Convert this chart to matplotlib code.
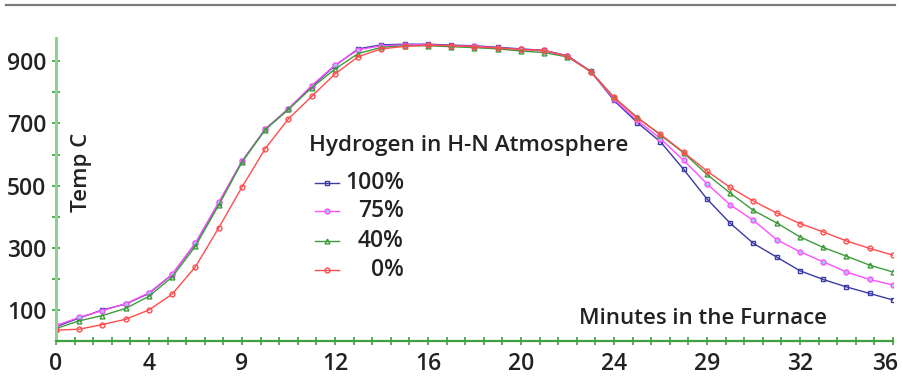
import numpy as np
import matplotlib.pyplot as plt
from matplotlib.lines import Line2D
from matplotlib.transforms import ScaledTranslation

plt.rcParams['font.family'] = ['Open Sans', 'DejaVu Sans']

minutes = np.arange(0, 37)

h100 = [46, 74, 100, 119, 153, 214, 314, 444, 578, 681, 747, 819, 886, 940, 953, 955, 955, 952,
        950, 945, 940, 935, 918, 868, 774, 703, 641, 552, 457, 379, 314, 270, 226, 198, 174, 153, 132]
h75 = [50, 76, 98, 120, 155, 215, 316, 446, 578, 682, 748, 822, 888, 937, 950, 953, 953, 950,
       948, 943, 938, 933, 917, 867, 778, 710, 651, 581, 506, 438, 388, 326, 287, 255, 222, 198, 180]
h40 = [40, 65, 82, 105, 144, 206, 305, 437, 575, 680, 745, 815, 875, 925, 945, 950, 950, 947,
       944, 940, 933, 928, 914, 868, 784, 720, 663, 605, 536, 476, 420, 380, 335, 301, 273, 244, 222]
h0 = [35, 38, 53, 70, 100, 151, 239, 364, 495, 619, 715, 787, 859, 915, 940, 948, 952, 950,
      947, 943, 938, 935, 916, 866, 784, 718, 665, 607, 547, 494, 450, 412, 378, 351, 322, 298, 276]

series = [h100, h75, h40, h0]
labels = ['100%', '75%', '40%', '0%']
colors = ['#3a3aa8', '#ff50ff', '#3c9c3c', '#ff4d4d']
markers = ['s', 'o', '^', 'o']
faces = ['none', '#a0c8ff', 'none', 'none']

xtick_pos = [0, 4, 8, 12, 16, 20, 24, 28, 32, 36]
xtick_lab = ['0', '4', '9', '12', '16', '20', '24', '29', '32', '36']
ytick_pos = [100, 200, 300, 400, 500, 600, 700, 800, 900]
ytick_lab = ['100', '', '300', '', '500', '', '700', '', '900']

TXT = '#222222'

fig = plt.figure(figsize=(9.04, 3.9), dpi=100)
ax = fig.add_axes([0.0619, 0.1256, 0.9259, 0.777])

for ys, c, m, fc in zip(series, colors, markers, faces):
    ax.plot(minutes, ys, color=c, lw=1.0, marker=m, markersize=3.5,
            markerfacecolor=fc, markeredgecolor=c, markeredgewidth=1.0)

ax.set_xlim(0, 36)
ax.set_ylim(0, 975)

for s in ['top', 'right']:
    ax.spines[s].set_visible(False)
ax.spines['left'].set_color('#90d090')
ax.spines['left'].set_linewidth(2.2)
ax.spines['bottom'].set_color('#3fa03f')
ax.spines['bottom'].set_linewidth(1.6)

ax.set_xticks(xtick_pos)
ax.set_xticklabels(xtick_lab)
ax.set_xticks(np.arange(0, 36.01, 0.8), minor=True)
ax.set_yticks(ytick_pos)
ax.set_yticklabels(ytick_lab)

ax.tick_params(axis='x', which='both', direction='inout', length=6, width=1.2,
               color='#3fa03f', pad=5, labelsize=16.5, labelcolor=TXT)
ax.tick_params(axis='y', which='both', direction='inout', length=6, width=1.2,
               color='#3fa03f', pad=4, labelsize=16.5, labelcolor=TXT)
for t in ax.get_xticklabels() + ax.get_yticklabels():
    t.set_fontweight('semibold')

# last x label sits a little left so it stays inside the image
last = ax.get_xticklabels()[-1]
last.set_transform(last.get_transform() + ScaledTranslation(-8 / 100, 0, fig.dpi_scale_trans))

fig.text(82 / 904, 1 - 172 / 390, 'Temp C', fontsize=16, fontweight='semibold',
         color=TXT, rotation=90, ha='center', va='center')
fig.text(703 / 904, 1 - 318 / 390, 'Minutes in the Furnace', fontsize=16,
         fontweight='semibold', color=TXT, ha='center', va='center')

# legend drawn by hand
fig.text(309 / 904, 1 - 146 / 390, 'Hydrogen in H-N Atmosphere', fontsize=16.2,
         fontweight='semibold', color=TXT, ha='left', va='center')
leg_y = [183, 211, 241, 270]
for ly, lab, c, m, fc in zip(leg_y, labels, colors, markers, faces):
    yy = 1 - ly / 390
    fig.add_artist(Line2D([315 / 904, 339 / 904], [yy, yy], color=c, lw=1.0))
    fig.add_artist(Line2D([327 / 904], [yy], color=c, marker=m, markersize=3.5,
                          markerfacecolor=fc, markeredgecolor=c, markeredgewidth=1.0))
    fig.text(404 / 904, yy, lab, fontsize=16.5, fontweight='semibold', color=TXT,
             ha='right', va='center')

# grey rule at the top
fig.add_artist(Line2D([6 / 904, 895 / 904], [1 - 5 / 390, 1 - 5 / 390], color='#7a7a7a', lw=1.6))

fig.savefig('out.png', dpi=100)
